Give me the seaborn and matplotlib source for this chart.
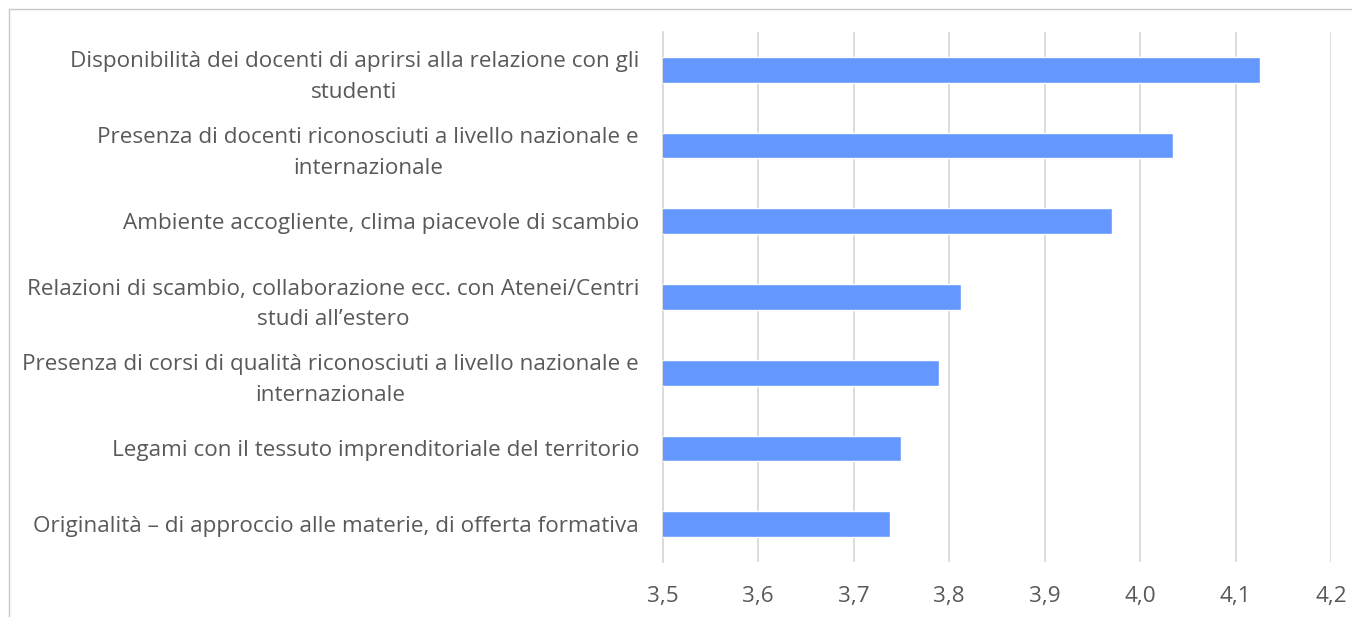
import matplotlib
matplotlib.use("Agg")
import matplotlib.pyplot as plt
import seaborn as sns
import pandas as pd
from matplotlib.lines import Line2D
from matplotlib.ticker import FuncFormatter, MultipleLocator

categories = [
    "Disponibilità dei docenti di aprirsi alla relazione con gli\nstudenti",
    "Presenza di docenti riconosciuti a livello nazionale e\ninternazionale",
    "Ambiente accogliente, clima piacevole di scambio",
    "Relazioni di scambio, collaborazione ecc. con Atenei/Centri\nstudi all\u2019estero",
    "Presenza di corsi di qualità riconosciuti a livello nazionale e\ninternazionale",
    "Legami con il tessuto imprenditoriale del territorio",
    "Originalità \u2013 di approccio alle materie, di offerta formativa",
]
scores = [4.126, 4.034, 3.971, 3.812, 3.789, 3.750, 3.738]

df = pd.DataFrame({"item": categories, "score": scores})

sns.set_style("white")
plt.rcParams["font.family"] = ["Open Sans", "DejaVu Sans"]

W, H = 1352, 617
fig = plt.figure(figsize=(W / 100, H / 100), dpi=100)
ax = fig.add_axes([662.7 / W, 1 - 562 / H, (1331 - 662.7) / W, (562 - 32) / H])

sns.barplot(data=df, x="score", y="item", orient="h", color="#6498FE",
            width=0.34, saturation=1, ax=ax, zorder=3)

ax.set_xlim(3.5, 4.2)
ax.xaxis.set_major_locator(MultipleLocator(0.1))
ax.xaxis.set_major_formatter(FuncFormatter(lambda v, p: f"{v:.1f}".replace(".", ",")))
ax.grid(axis="x", color="#D9D9D9", linewidth=1.3, zorder=0)
for s in ["top", "right", "bottom"]:
    ax.spines[s].set_visible(False)
ax.spines["left"].set_color("#D9D9D9")
ax.spines["left"].set_linewidth(1.3)
ax.set_xlabel("")
ax.set_ylabel("")
ax.tick_params(axis="both", length=0, labelsize=16.2, colors="#595959")
ax.tick_params(axis="y", pad=17)
ax.tick_params(axis="x", pad=17)
for lbl in ax.get_yticklabels():
    lbl.set_multialignment("center")
    lbl.set_linespacing(1.62)

# thin frame on the left and top edges
fig.add_artist(Line2D([8.5 / W, 8.5 / W], [0, 1 - 8.5 / H], transform=fig.transFigure,
                      color="#C8C8C8", linewidth=1))
fig.add_artist(Line2D([8.5 / W, 1], [1 - 8.5 / H, 1 - 8.5 / H], transform=fig.transFigure,
                      color="#C8C8C8", linewidth=1))

fig.savefig("out.png", dpi=100)
